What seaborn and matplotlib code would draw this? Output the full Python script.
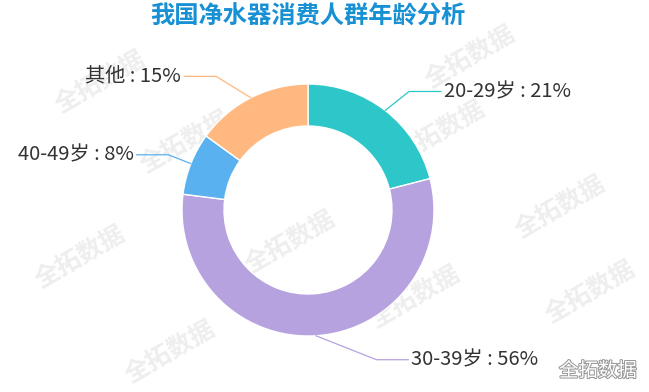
import numpy as np
import matplotlib.pyplot as plt
import matplotlib.patheffects as pe
import seaborn as sns

# data
groups = ["20-29岁", "30-39岁", "40-49岁", "其他"]
shares = [21, 56, 8, 15]
colors = ["#2ec7c9", "#b6a2de", "#5ab1ef", "#ffb980"]
title = "我国净水器消费人群年龄分析"

sns.set_theme(style="white")
plt.rcParams['font.family'] = ['Noto Sans CJK SC', 'DejaVu Sans']

W, H = 649, 392
fig = plt.figure(figsize=(W / 100, H / 100), dpi=100)
ax = fig.add_axes([0, 0, 1, 1])

# faint watermarks
for gx, gy in [(100, 310), (470, 335), (185, 250), (440, 260), (560, 185), (290, 150),
               (80, 135), (415, 95), (170, 40), (590, 100)]:
    ax.text(gx, gy, "全拓数据", fontsize=18, fontweight='bold', color="#eeeeee",
            rotation=30, ha='center', va='center', zorder=0)

cx, cy, R = 308, H - 210, 126
wedges, _ = ax.pie(shares, colors=sns.color_palette(colors), startangle=90, counterclock=False,
                   center=(cx, cy), radius=R, wedgeprops=dict(width=42, edgecolor='white', linewidth=1))

total = sum(shares)
for w, g, s, c in zip(wedges, groups, shares, colors):
    ang = np.deg2rad((w.theta1 + w.theta2) / 2)
    x0, y0 = cx + R * np.cos(ang), cy + R * np.sin(ang)
    x1, y1 = cx + (R + 24) * np.cos(ang), cy + (R + 24) * np.sin(ang)
    side = 1 if np.cos(ang) >= 0 else -1
    x1 += side * 60 * abs(np.sin(ang)) ** 8
    x2 = x1 + side * 32
    ax.plot([x0, x1, x2], [y0, y1, y1], color=c, lw=0.9, zorder=3)
    ax.text(x2 + side * 3, y1, f"{g} : {round(100 * s / total)}%", fontsize=14.5, color="#333333",
            ha='left' if side > 0 else 'right', va='center')

ax.set_xlim(0, W)
ax.set_ylim(0, H)
ax.set_aspect('equal')
ax.axis('off')

ax.text(cx, H - 17, title, fontsize=17.5, fontweight='bold', color="#1790d4", ha='center', va='center')
ax.text(598, H - 371, "全拓数据", fontsize=14, color="white", ha='center', va='center',
        path_effects=[pe.withStroke(linewidth=1.5, foreground="#999999")])

fig.savefig("out.png", dpi=100)
